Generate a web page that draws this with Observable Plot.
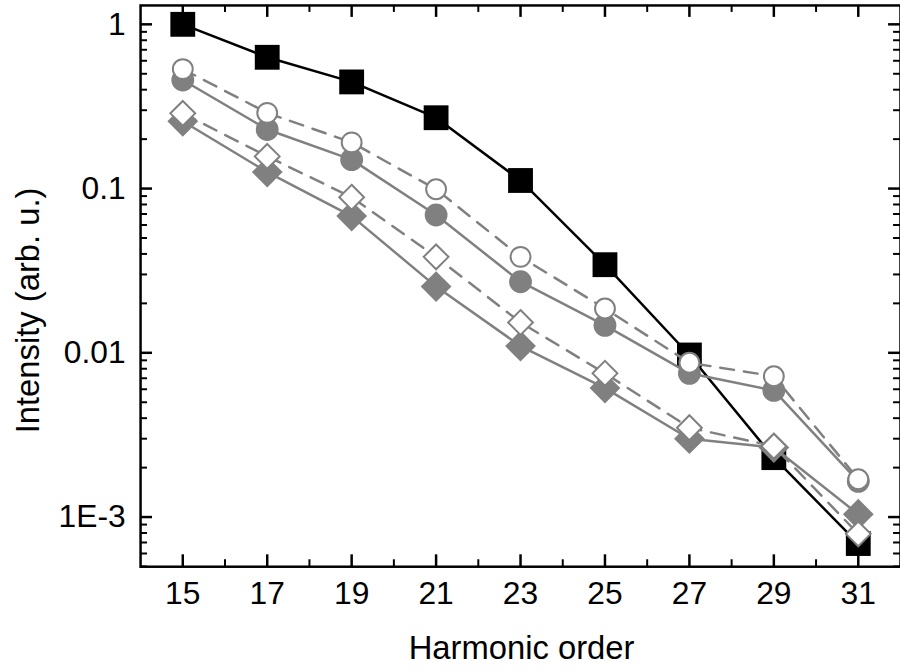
<!DOCTYPE html>
<html>
<head>
<meta charset="utf-8">
<script src="https://cdn.jsdelivr.net/npm/d3@7"></script>
<script src="https://cdn.jsdelivr.net/npm/@observablehq/plot@0.6"></script>
<style>
  html, body { margin: 0; padding: 0; background: #fff; overflow: hidden; }
  #chart svg { display: block; }
</style>
</head>
<body>
<div id="chart"></div>
<script>
// Harmonic orders on the x axis
const harmonics = [15, 17, 19, 21, 23, 25, 27, 29, 31];

// Measured harmonic intensities (arb. u.)
const squareSeries        = [1.0, 0.63, 0.446, 0.27, 0.112, 0.0344, 0.0097, 0.0023, 0.00069];
const filledCircleSeries  = [0.458, 0.229, 0.150, 0.069, 0.0271, 0.0147, 0.0075, 0.0059, 0.00165];
const openCircleSeries    = [0.534, 0.289, 0.191, 0.099, 0.0384, 0.0186, 0.0087, 0.0072, 0.0017];
const filledDiamondSeries = [0.257, 0.126, 0.068, 0.0253, 0.011, 0.0061, 0.0030, 0.00265, 0.00104];
const openDiamondSeries   = [0.287, 0.157, 0.0886, 0.0384, 0.0153, 0.0075, 0.0035, 0.0027, 0.00079];

// Axis ticks
const xMajorTicks = [15, 17, 19, 21, 23, 25, 27, 29, 31];
const xMinorTicks = [16, 18, 20, 22, 24, 26, 28, 30];
const yMajorTicks = [1e-3, 1e-2, 1e-1, 1];
const yTickLabels = ["1E-3", "0.01", "0.1", "1"];

const yDomain = [Math.pow(10, -3.3024), Math.pow(10, 0.1149)];
const yMinorTicks = [];
for (const decade of [1e-4, 1e-3, 1e-2, 1e-1])
  for (let m = 2; m <= 9; ++m) {
    const t = m * decade;
    if (t >= yDomain[0] && t <= yDomain[1]) yMinorTicks.push(t);
  }

const toRows = (values) => harmonics.map((h, i) => ({h, v: values[i]}));

// Square and rotated-square symbols whose half-extent equals the dot radius
const squareSymbol = {
  draw(ctx, size) {
    const s = Math.sqrt(size / Math.PI);
    ctx.moveTo(-s, -s); ctx.lineTo(s, -s); ctx.lineTo(s, s); ctx.lineTo(-s, s); ctx.closePath();
  }
};
const diamondSymbol = {
  draw(ctx, size) {
    const s = Math.sqrt(size / Math.PI);
    ctx.moveTo(0, -s); ctx.lineTo(s, 0); ctx.lineTo(0, s); ctx.lineTo(-s, 0); ctx.closePath();
  }
};

const width = 906, height = 672;
const margin = {top: 5, right: 0, bottom: 102, left: 141};
const plotW = width - margin.left - margin.right;
const plotH = height - margin.top - margin.bottom;
const gray = "#808080";
const font = "'Liberation Sans', Arial, sans-serif";
const labelOf = new Map(yMajorTicks.map((t, i) => [t, yTickLabels[i]]));

const chart = Plot.plot({
  width, height,
  marginTop: margin.top, marginRight: margin.right,
  marginBottom: margin.bottom, marginLeft: margin.left,
  style: {fontFamily: font, color: "black", background: "white"},
  x: {domain: [14, 32]},
  y: {type: "log", domain: yDomain},
  marks: [
    // inward ticks on all four sides
    Plot.tickY(yMajorTicks, {y: d => d, insetRight: plotW - 12, stroke: "black", strokeWidth: 2.5}),
    Plot.tickY(yMinorTicks, {y: d => d, insetRight: plotW - 7, stroke: "black", strokeWidth: 2}),
    Plot.tickY(yMajorTicks, {y: d => d, insetLeft: plotW - 12, stroke: "black", strokeWidth: 2.5}),
    Plot.tickY(yMinorTicks, {y: d => d, insetLeft: plotW - 7, stroke: "black", strokeWidth: 2}),
    Plot.tickX(xMajorTicks, {x: d => d, insetTop: plotH - 12, stroke: "black", strokeWidth: 2.5}),
    Plot.tickX(xMinorTicks, {x: d => d, insetTop: plotH - 7, stroke: "black", strokeWidth: 2}),
    Plot.tickX(xMajorTicks, {x: d => d, insetBottom: plotH - 12, stroke: "black", strokeWidth: 2.5}),
    Plot.tickX(xMinorTicks, {x: d => d, insetBottom: plotH - 7, stroke: "black", strokeWidth: 2}),
    Plot.frame({stroke: "black", strokeWidth: 2.5}),

    // tick labels
    Plot.axisX({ticks: xMajorTicks, tickSize: 0, tickPadding: 15, label: null, fontSize: 32, tickFormat: d => String(d)}),
    Plot.axisY({ticks: yMajorTicks, tickSize: 0, tickPadding: 15, label: null, fontSize: 32, tickFormat: d => labelOf.get(d)}),

    // axis titles
    Plot.text(["Harmonic order"], {frameAnchor: "bottom", text: d => d, textAnchor: "middle", lineAnchor: "middle", dx: 1, dy: 82, fontSize: 33}),
    Plot.text(["Intensity (arb. u.)"], {frameAnchor: "left", text: d => d, textAnchor: "middle", lineAnchor: "middle", rotate: -90, dx: -113, dy: 24.5, fontSize: 33}),

    // black squares, solid black line
    Plot.line(toRows(squareSeries), {x: "h", y: "v", stroke: "black", strokeWidth: 2.5}),
    Plot.dot(toRows(squareSeries), {x: "h", y: "v", symbol: squareSymbol, r: 12.5, fill: "black", stroke: "none"}),

    // filled grey circles and diamonds, solid grey lines
    Plot.line(toRows(filledCircleSeries), {x: "h", y: "v", stroke: gray, strokeWidth: 2.5}),
    Plot.dot(toRows(filledCircleSeries), {x: "h", y: "v", symbol: "circle", r: 11.5, fill: gray, stroke: "none"}),
    Plot.line(toRows(filledDiamondSeries), {x: "h", y: "v", stroke: gray, strokeWidth: 2.5}),
    Plot.dot(toRows(filledDiamondSeries), {x: "h", y: "v", symbol: diamondSymbol, r: 15.5, fill: gray, stroke: "none"}),

    // open circles and diamonds, dashed grey lines
    Plot.line(toRows(openCircleSeries), {x: "h", y: "v", stroke: gray, strokeWidth: 2.5, strokeDasharray: "14,10"}),
    Plot.dot(toRows(openCircleSeries), {x: "h", y: "v", symbol: "circle", r: 10, fill: "white", stroke: gray, strokeWidth: 2}),
    Plot.line(toRows(openDiamondSeries), {x: "h", y: "v", stroke: gray, strokeWidth: 2.5, strokeDasharray: "14,10"}),
    Plot.dot(toRows(openDiamondSeries), {x: "h", y: "v", symbol: diamondSymbol, r: 12.5, fill: "white", stroke: gray, strokeWidth: 2})
  ]
});

document.getElementById("chart").appendChild(chart);
</script>
</body>
</html>
